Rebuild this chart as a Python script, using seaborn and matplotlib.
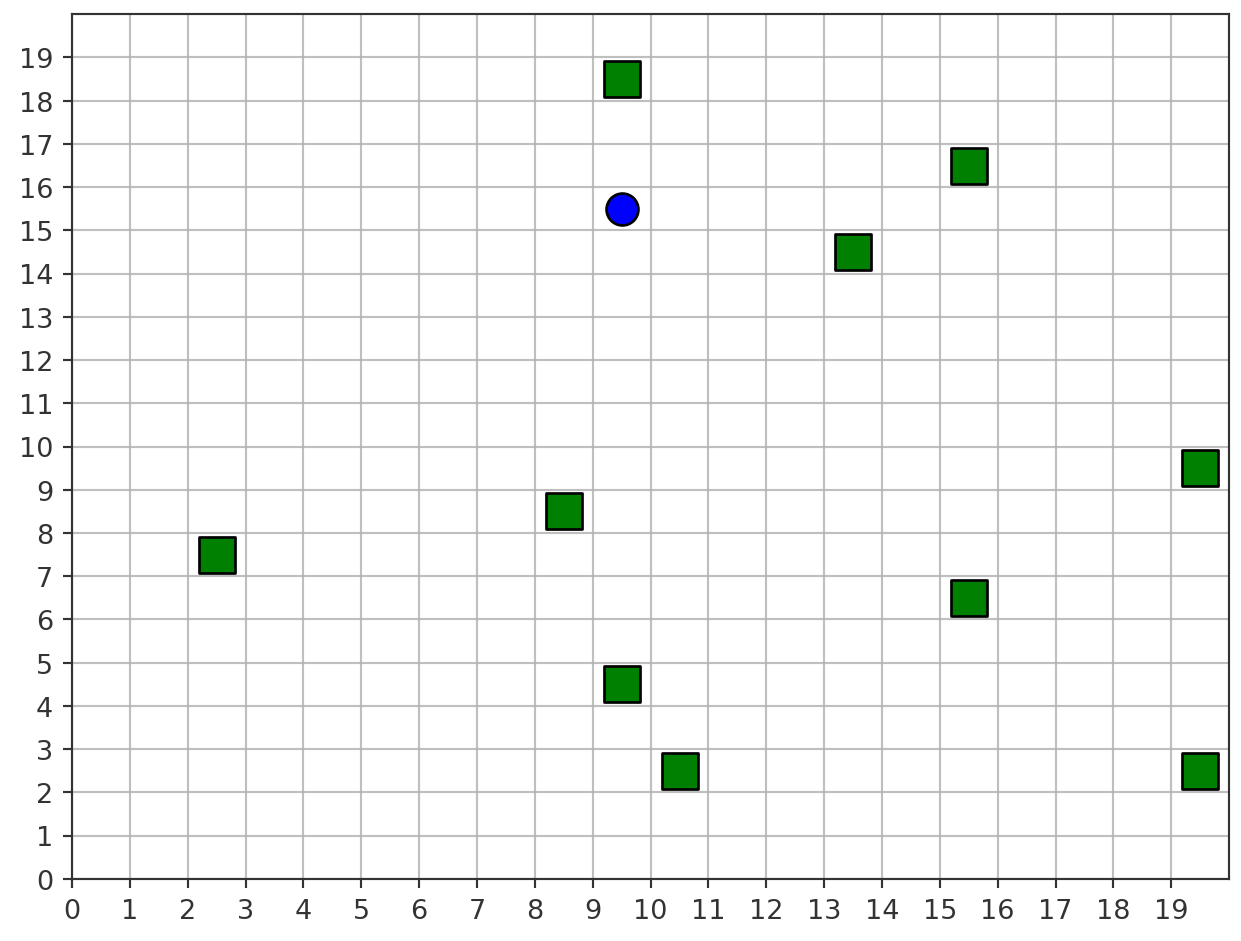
import numpy as np
import pandas as pd
import seaborn as sns
import matplotlib.pyplot as plt

# obstacle cells (green squares) and agent (blue circle)
obs_x = [9.5, 15.5, 13.5, 19.5, 8.5, 2.5, 15.5, 9.5, 10.5, 19.5]
obs_y = [18.5, 16.5, 14.5, 9.5, 8.5, 7.5, 6.5, 4.5, 2.5, 2.5]
agent_x = [9.5]
agent_y = [15.5]
grid_ticks = list(range(20))

obstacles = pd.DataFrame({'x': obs_x, 'y': obs_y})
agent = pd.DataFrame({'x': agent_x, 'y': agent_y})

sns.set_style('white')
plt.rcParams['font.family'] = ['DejaVu Sans']

fig, ax = plt.subplots(figsize=(6.4, 4.855), dpi=194)

sns.scatterplot(data=obstacles, x='x', y='y', marker='s', s=170, color='green',
                edgecolor='black', linewidth=1.0, ax=ax, zorder=3)
sns.scatterplot(data=agent, x='x', y='y', marker='o', s=140, color='blue',
                edgecolor='black', linewidth=1.0, ax=ax, zorder=3)

ax.set_xlim(0, 20)
ax.set_ylim(0, 20)
ax.set_xticks(grid_ticks)
ax.set_yticks(grid_ticks)
ax.grid(True, color='#b0b0b0', linewidth=0.8, alpha=0.8)
ax.tick_params(axis='both', which='both', direction='out', length=3.5, width=0.8,
               bottom=True, left=True, labelsize=10, colors='#333333', labelcolor='#333333')
for sp in ax.spines.values():
    sp.set_color('#333333')
    sp.set_linewidth(0.8)
ax.set_xlabel('')
ax.set_ylabel('')

fig.subplots_adjust(left=0.058, right=0.99, top=0.984, bottom=0.066)
fig.savefig('out.png', dpi=194)
